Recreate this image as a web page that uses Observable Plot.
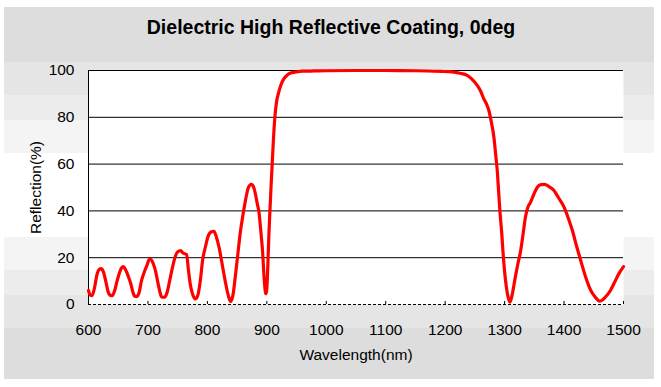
<!DOCTYPE html>
<html>
<head>
<meta charset="utf-8">
<script src="https://cdn.jsdelivr.net/npm/d3@7"></script>
<script src="https://cdn.jsdelivr.net/npm/@observablehq/plot@0.6"></script>
<style>
  html, body { margin: 0; padding: 0; background: #ffffff; }
  #wrap { position: relative; width: 661px; height: 387px; background: #ffffff; }
  #bg {
    position: absolute; left: 4px; top: 7px; width: 650px; height: 372px;
    background: linear-gradient(to bottom,
      #dddddd 0px, #dddddd 55px,
      #e5e5e5 55px, #e5e5e5 88px,
      #ececec 88px, #ececec 113px,
      #f4f4f4 113px, #f4f4f4 146px,
      #ffffff 146px, #ffffff 230px,
      #f4f4f4 230px, #f4f4f4 263px,
      #ececec 263px, #ececec 288px,
      #e5e5e5 288px, #e5e5e5 321px,
      #dddddd 321px, #dddddd 372px);
  }
  #chart { position: absolute; left: 0; top: 0; }
</style>
</head>
<body>
<div id="wrap"><div id="bg"></div><div id="chart"></div></div>
<script>
const title = "Dielectric High Reflective Coating, 0deg";
const xLabel = "Wavelength(nm)";
const yLabel = "Reflection(%)";
const xTicks = [600, 700, 800, 900, 1000, 1100, 1200, 1300, 1400, 1500];
const yTicks = [0, 20, 40, 60, 80, 100];

const wavelength = [
  600, 603, 606, 610, 614, 618, 621, 625, 629, 633, 637, 640, 644, 648, 652, 656, 659, 663, 667, 671,
  675, 678, 681, 685, 689, 694, 698, 703, 709, 713, 717, 720, 723, 728, 732, 736, 741, 746, 750, 755,
  759, 765, 768, 771, 775, 780, 784, 788, 792, 797, 801, 806, 811, 815, 820, 825, 830, 835, 839, 843,
  847, 851, 855, 859, 863, 866, 869, 874, 878, 881, 884, 887, 890, 893, 895, 897, 898, 899.5, 901, 902,
  903.5, 905, 907, 909, 911, 913.5, 916, 920, 924, 928.5, 934, 940, 950, 959, 980, 1000, 1050, 1100, 1150, 1194,
  1205, 1215, 1225, 1237, 1245, 1254, 1260, 1265, 1269, 1273.5, 1278, 1282, 1285, 1287.6, 1290, 1292, 1295, 1297.5, 1300, 1303,
  1306, 1309, 1313, 1317, 1322, 1327, 1331, 1335, 1339, 1343.6, 1349, 1355, 1361, 1367, 1375, 1383, 1391, 1400, 1407, 1414,
  1421, 1428, 1436, 1445, 1452, 1460, 1469, 1478, 1485, 1492, 1500
];
const reflection = [
  6.0, 4.0, 3.8, 7, 12.5, 15, 15.3, 14, 10, 5.5, 3.9, 3.8, 6, 10, 13.5, 15.8, 16.2, 14.5, 12, 9,
  5, 3.5, 3.4, 5, 10, 14, 16.5, 19.5, 17.4, 14, 9, 5.5, 3.2, 3.1, 5, 9.5, 15.5, 20.5, 22.5, 23,
  22, 21.4, 15, 9, 4.5, 2.4, 4, 10, 19, 25, 29, 31, 31.3, 29, 24, 17, 10, 4, 1.3, 4,
  12, 21, 30, 37, 43, 47, 50, 51.3, 50, 47, 43, 39, 31, 22, 13, 6.5, 4.6, 5.5, 12, 19,
  30, 39, 50, 60, 70, 80, 86, 90.7, 94, 96.4, 98, 98.9, 99.4, 99.7, 99.8, 99.9, 100, 100, 99.9, 99.6,
  99.5, 99.3, 98.8, 97.9, 96.3, 93.6, 91, 87.9, 86, 82.9, 77.5, 71.5, 64, 57.3, 48, 40.2, 31, 21.7, 14, 7.4,
  3, 1, 4.5, 10.3, 17, 23, 30, 37.3, 41.5, 43.7, 47, 50.1, 51.2, 51.3, 50.3, 48.7, 45.5, 41.6, 37, 31.6,
  25, 18.8, 12, 6, 3.3, 1.4, 3, 6, 9.5, 13.1, 16.2
];

const data = wavelength.map((w, i) => ({w, r: reflection[i]}));
const gridLines = yTicks.filter(d => d > 0);
const font = "'Liberation Sans', Arial, sans-serif";

const chart = Plot.plot({
  width: 661,
  height: 387,
  marginLeft: 88,
  marginRight: 38,
  marginTop: 70,
  marginBottom: 83,
  style: {background: "transparent", fontFamily: font, fontSize: "15.5px", color: "black", overflow: "visible"},
  x: {domain: [600, 1500]},
  y: {domain: [0, 100]},
  marks: [
    Plot.frame({fill: "white", stroke: "none"}),
    Plot.ruleY(gridLines, {stroke: "black", strokeWidth: 1}),
    Plot.ruleX([600], {stroke: "black", strokeWidth: 1}),
    Plot.ruleY([0], {stroke: "black", strokeWidth: 1, strokeDasharray: "3,2"}),
    Plot.ruleX(xTicks.slice(1), {y1: 0, y2: 1.3, stroke: "black", strokeWidth: 1}),
    Plot.axisX(xTicks, {tickSize: 0, tickPadding: 19, tickFormat: d => String(d), label: null, fontSize: 15.5}),
    Plot.axisY(yTicks, {tickSize: 0, tickPadding: 14, tickFormat: d => String(d), label: null, fontSize: 15.5}),
    Plot.line(data, {x: "w", y: "r", stroke: "#ff0000", strokeWidth: 3.2, curve: "monotone-x"}),
    Plot.text([xLabel], {frameAnchor: "bottom", dy: 51, lineAnchor: "middle", fontSize: 15.5}),
    Plot.text([yLabel], {frameAnchor: "left", dx: -52, rotate: -90, textAnchor: "middle", lineAnchor: "middle", fontSize: 15.5}),
    Plot.text([title], {frameAnchor: "top", dy: -43, dx: -25, lineAnchor: "middle", fontSize: 19.5, fontWeight: "bold"})
  ]
});
document.getElementById("chart").appendChild(chart);
</script>
</body>
</html>
